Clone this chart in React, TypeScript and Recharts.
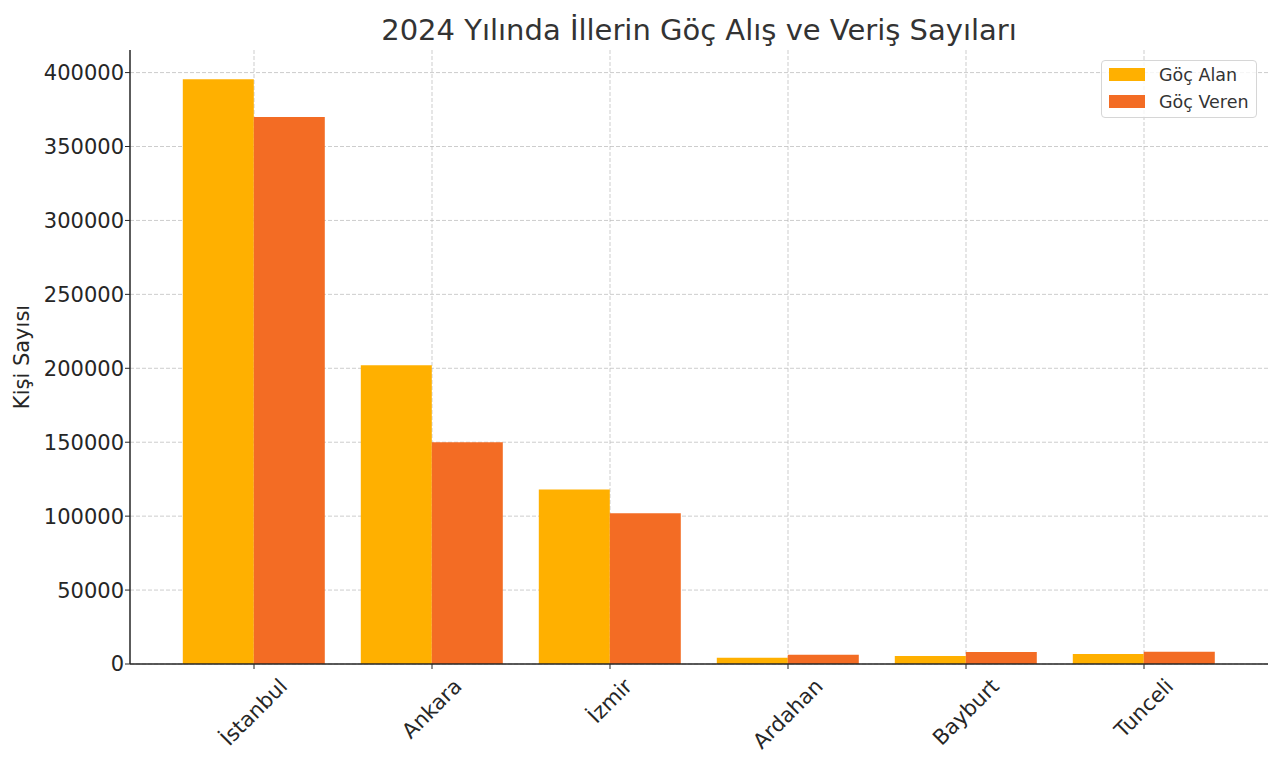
import React from "react";
import { BarChart, Bar, XAxis, YAxis, CartesianGrid, Legend, Label } from "recharts";

const categories = ["İstanbul", "Ankara", "İzmir", "Ardahan", "Bayburt", "Tunceli"];
const gocAlan = [395500, 202000, 118000, 4300, 5400, 6800];
const gocVeren = [370000, 150000, 102000, 6300, 8100, 8300];
const yTicks = [0, 50000, 100000, 150000, 200000, 250000, 300000, 350000, 400000];

const FONT = "'DejaVu Sans', sans-serif";
const ALAN = "#FFB000";
const VEREN = "#F36C24";
const INK = "#262626";
const Y_MAX = 415275;
const X_PAD = 35;

const data = categories.map((il, i) => ({ il, alan: gocAlan[i], veren: gocVeren[i] }));

let ctx: CanvasRenderingContext2D | null = null;
function measure(text: string, size: number) {
    if (!ctx) ctx = document.createElement("canvas").getContext("2d");
    if (!ctx) return text.length * size * 0.6;
    ctx.font = `${size}px 'DejaVu Sans'`;
    return ctx.measureText(text).width;
}

// matplotlib style: rotate 45deg, then center the rotated box under the tick
function RotatedTick(props: any) {
    const { x, y, payload } = props;
    const size = 21;
    const w = measure(payload.value, size);
    const h = size * 1.16;
    const half = (w + h) / (2 * Math.SQRT2);
    const cy = y + 3 + half;
    return (
        <text
            x={x}
            y={cy}
            transform={`rotate(-45, ${x}, ${cy})`}
            textAnchor="middle"
            dominantBaseline="central"
            fontSize={size}
            fontFamily={FONT}
            fill={INK}
        >
            {payload.value}
        </text>
    );
}

function LegendBox() {
    const items = [
        { name: "Göç Alan", color: ALAN },
        { name: "Göç Veren", color: VEREN },
    ];
    return (
        <div
            style={{
                background: "rgba(255,255,255,0.8)",
                border: "1px solid #d6d6d6",
                borderRadius: 4,
                padding: "0px 7px 2px 7px",
                fontFamily: FONT,
                fontSize: 17.5,
                color: "#333",
            }}
        >
            {items.map((it) => (
                <div key={it.name} style={{ display: "flex", alignItems: "center", height: 27 }}>
                    <div style={{ width: 36, height: 13, background: it.color, marginRight: 14 }} />
                    <span>{it.name}</span>
                </div>
            ))}
        </div>
    );
}

export default function App() {
    return (
        <div style={{ position: "absolute", left: 0, top: 0, width: 1280, height: 763, background: "#fff" }}>
            <BarChart
                width={1280}
                height={763}
                data={data}
                margin={{ top: 50, right: 12, left: 0, bottom: 0 }}
                barCategoryGap="10%"
                barGap={0}
            >
                <text x={699} y={30} textAnchor="middle" dominantBaseline="central" fontSize={29} fontFamily={FONT} fill="#333">
                    2024 Yılında İllerin Göç Alış ve Veriş Sayıları
                </text>
                <Bar dataKey="alan" name="Göç Alan" fill={ALAN} isAnimationActive={false} />
                <Bar dataKey="veren" name="Göç Veren" fill={VEREN} isAnimationActive={false} />
                <CartesianGrid
                    stroke="#b8b8b8"
                    strokeOpacity={0.7}
                    strokeDasharray="4 2"
                    horizontalCoordinatesGenerator={({ offset }: any) =>
                        yTicks.map((t) => offset.top + offset.height * (1 - t / Y_MAX))
                    }
                    verticalCoordinatesGenerator={({ offset }: any) => {
                        const band = (offset.width - 2 * X_PAD) / categories.length;
                        return categories.map((_, i) => offset.left + X_PAD + band * (i + 0.5));
                    }}
                />
                <XAxis
                    dataKey="il"
                    height={99}
                    padding={{ left: X_PAD, right: X_PAD }}
                    axisLine={{ stroke: INK, strokeWidth: 1.5 }}
                    tickLine={{ stroke: INK }}
                    tickSize={5}
                    tick={<RotatedTick />}
                    interval={0}
                />
                <YAxis
                    width={130}
                    domain={[0, Y_MAX]}
                    ticks={yTicks}
                    allowDataOverflow
                    axisLine={{ stroke: INK, strokeWidth: 1.5 }}
                    tickLine={{ stroke: INK }}
                    tickSize={5}
                    tickMargin={1}
                    tick={{ fontSize: 21, fontFamily: FONT, fill: INK }}
                >
                    <Label
                        content={() => (
                            <text
                                x={22}
                                y={357}
                                transform="rotate(-90, 22, 357)"
                                textAnchor="middle"
                                dominantBaseline="central"
                                fontSize={21}
                                fontFamily={FONT}
                                fill={INK}
                            >
                                Kişi Sayısı
                            </text>
                        )}
                    />
                </YAxis>
                <Legend
                    layout="vertical"
                    align="center"
                    verticalAlign="middle"
                    wrapperStyle={{ position: "absolute", top: 60, left: 1101, width: "auto" }}
                    content={() => <LegendBox />}
                />
            </BarChart>
        </div>
    );
}
